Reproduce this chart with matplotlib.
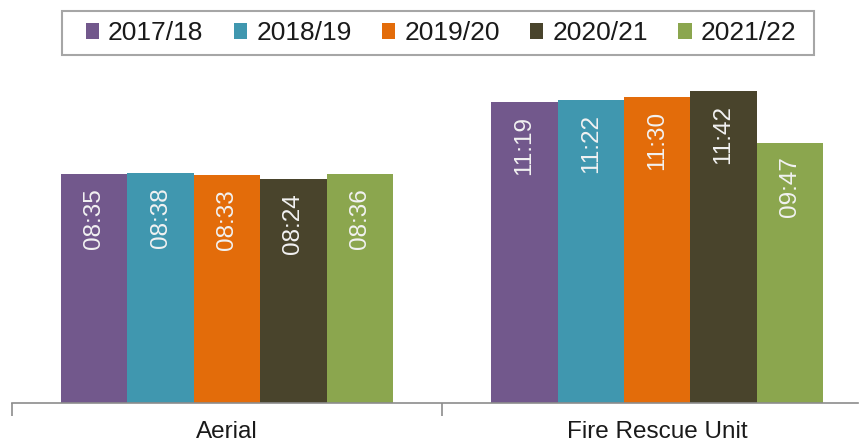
import matplotlib
matplotlib.use("Agg")
import matplotlib.pyplot as plt
from matplotlib.patches import Rectangle
import numpy as np

# response times as shown on the chart (mm:ss)
categories = ["Aerial", "Fire Rescue Unit"]
years = ["2017/18", "2018/19", "2019/20", "2020/21", "2021/22"]
aerial = ["08:35", "08:38", "08:33", "08:24", "08:36"]
fru = ["11:19", "11:22", "11:30", "11:42", "09:47"]
colors = ["#72588C", "#4097AF", "#E36C0A", "#49442C", "#8BA64E"]

def to_sec(s):
    m, sec = s.split(":")
    return int(m) * 60 + int(sec)

plt.rcParams["font.family"] = ["Liberation Sans", "DejaVu Sans"]

W, H = 860, 447
fig = plt.figure(figsize=(W/100, H/100), dpi=100)
ax = fig.add_axes([12/W, 44/H, 846/W, 355/H])

x = np.arange(len(categories))
w = 0.1544
for i in range(len(years)):
    labels = [aerial[i], fru[i]]
    vals = [to_sec(aerial[i]), to_sec(fru[i])]
    xs = x + (i - 2) * w
    ax.bar(xs, vals, width=w, color=colors[i], label=years[i], linewidth=0)
    for xx, v, lab in zip(xs, vals, labels):
        ax.annotate(lab, (xx, v), xytext=(0, -10), textcoords="offset points",
                    ha="center", va="top", rotation=90, color="#F2F2F2", fontsize=17.5)

ax.set_xlim(-0.5, 1.467)
ax.set_ylim(0, 800)
ax.set_yticks([])
for s in ["top", "right", "left"]:
    ax.spines[s].set_visible(False)
ax.spines["bottom"].set_color("#8C8C8C")
ax.spines["bottom"].set_linewidth(1.2)
ax.set_xticks(x)
ax.set_xticklabels(categories, fontsize=17.5, color="#1A1A1A")
ax.tick_params(axis="x", which="major", length=0, pad=13)
ax.set_xticks([-0.5, 0.5], minor=True)
ax.tick_params(axis="x", which="minor", length=9, color="#8C8C8C", width=1.2)

# legend without its own frame, box drawn separately
leg = fig.legend(loc="center", bbox_to_anchor=(441/W, 1 - 33/H), ncol=5,
                 fontsize=19, frameon=False, handlelength=0.5,
                 handleheight=0.55, handletextpad=0.35, columnspacing=1.15,
                 borderpad=0, borderaxespad=0)
for t in leg.get_texts():
    t.set_color("#1A1A1A")
fig.patches.append(Rectangle((62/W, 1 - 55/H), 752/W, 44/H, transform=fig.transFigure,
                             fill=False, edgecolor="#A6A6A6", linewidth=1.5))

fig.savefig("out.png", dpi=100)
